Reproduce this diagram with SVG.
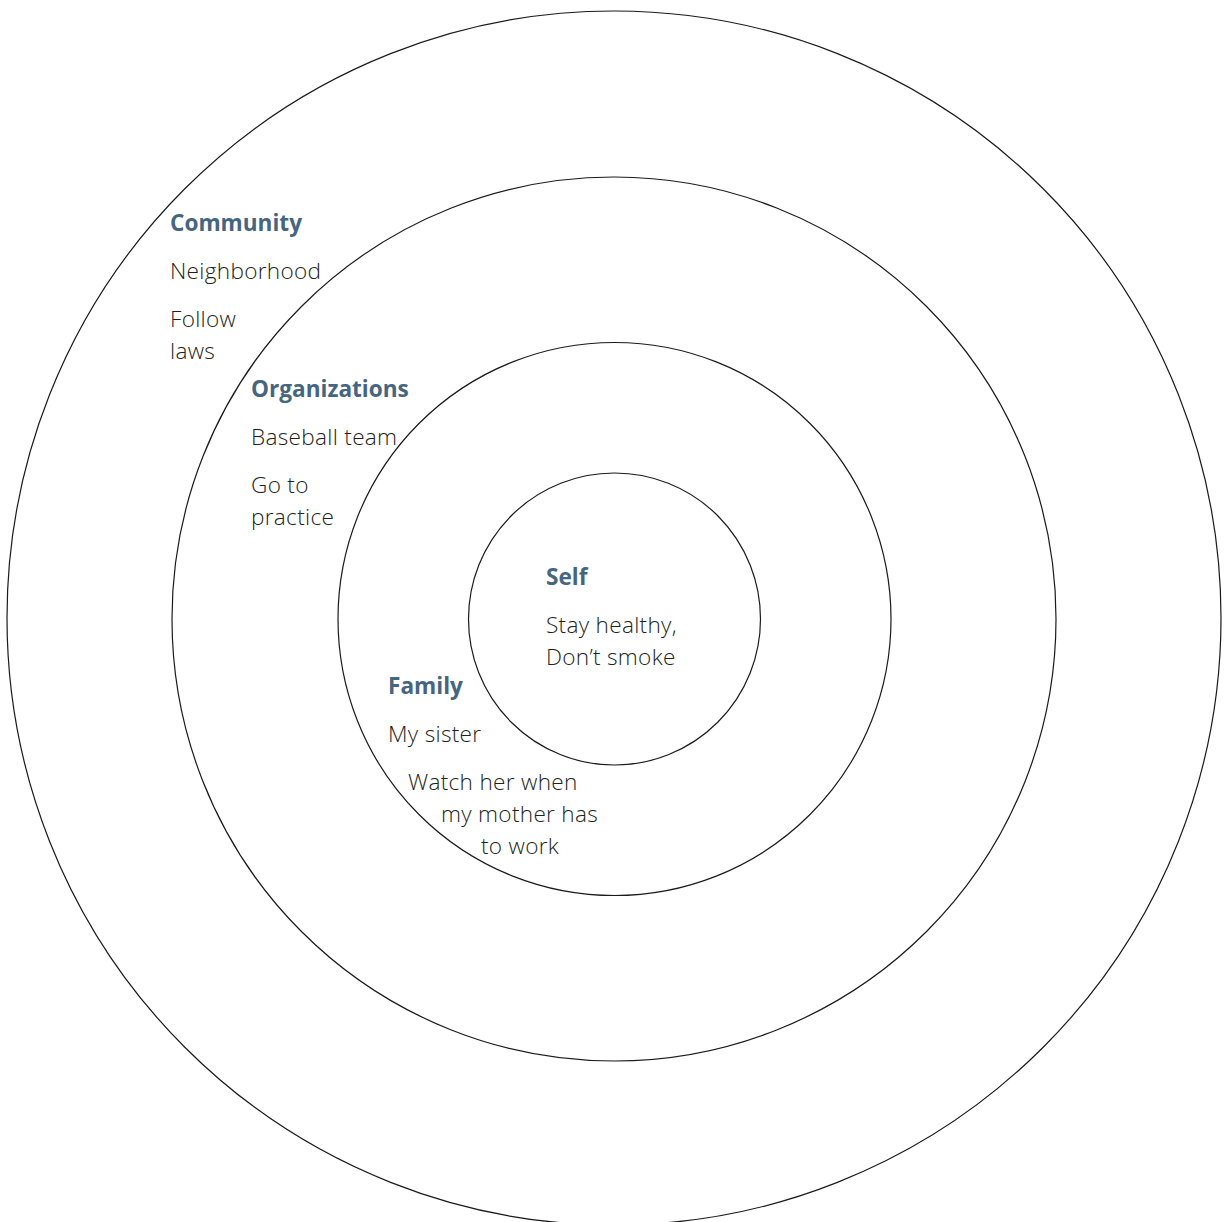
<svg xmlns="http://www.w3.org/2000/svg" width="1225" height="1222" viewBox="0 0 1225 1222">
<style>
.ring{fill:none;stroke:#1a1a1a;stroke-width:1.2}
.h{font-family:"Open Sans","Noto Sans",sans-serif;font-size:22.6px;font-weight:700;fill:#46667f}
.t{font-family:"Open Sans","Noto Sans",sans-serif;font-size:22.6px;font-weight:300;letter-spacing:0.3px;fill:#231f20}
</style>
<rect width="1225" height="1222" fill="#fff"/>
<g id="community">
<circle class="ring" cx="614" cy="618" r="607"/>
<text class="h" x="170" y="231">Community</text>
<text class="t" x="170" y="279">Neighborhood</text>
<text class="t" x="170" y="327">Follow</text>
<text class="t" x="170" y="359">laws</text>
</g>
<g id="organizations">
<circle class="ring" cx="614" cy="619" r="442"/>
<text class="h" x="251" y="397">Organizations</text>
<text class="t" x="251" y="445">Baseball team</text>
<text class="t" x="251" y="493">Go to</text>
<text class="t" x="251" y="525">practice</text>
</g>
<g id="family">
<circle class="ring" cx="614.5" cy="619" r="276.5"/>
<text class="h" x="388" y="694">Family</text>
<text class="t" x="388" y="742">My sister</text>
<text class="t" x="408" y="790">Watch her when</text>
<text class="t" x="441" y="822">my mother has</text>
<text class="t" x="481" y="854">to work</text>
</g>
<g id="self">
<circle class="ring" cx="614.5" cy="619" r="146"/>
<text class="h" x="546" y="585">Self</text>
<text class="t" x="546" y="633">Stay healthy,</text>
<text class="t" x="546" y="665">Don’t smoke</text>
</g>
<g id="connectors"/>
</svg>
